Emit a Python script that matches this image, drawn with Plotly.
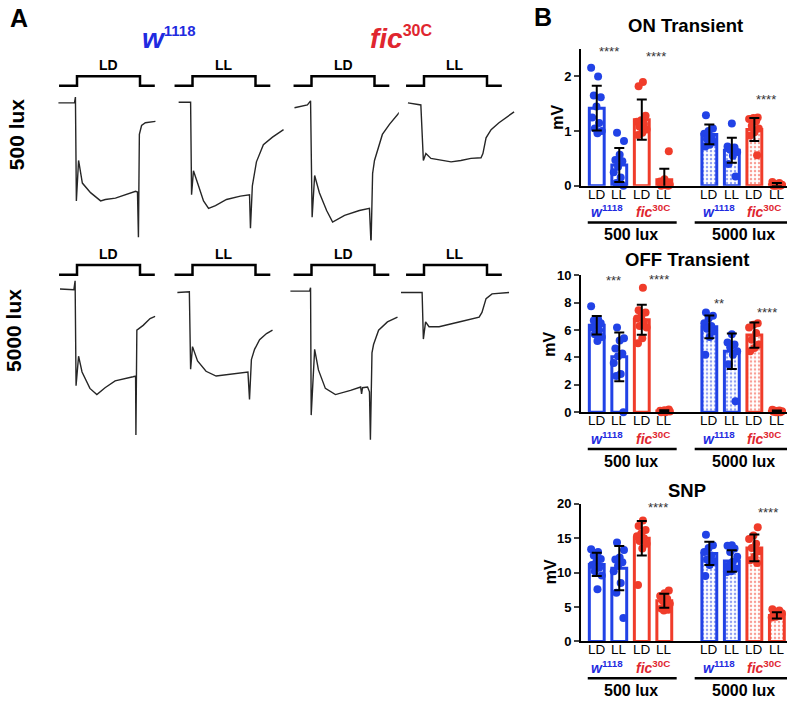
import plotly.graph_objects as go

W, H = 792, 704
FONT = 'Arial, Liberation Sans, sans-serif'
BLUE = '#2142e6'
RED = '#f03c2a'
TXT_BLUE = '#1f2be0'
TXT_RED = '#e0262f'

# ---------------- Panel A: ERG traces ----------------
# time in s from light onset (light on 0..2 s), response in mV from baseline
stim_t = [-0.57, 0, 0, 2, 2, 2.47]
stim_on = [0, 0, 1, 1, 0, 0]

w_ld_500_t = [-0.59, -0.08, -0.05, -0.02, 0.05, 0.17, 0.43, 0.75, 0.9, 1.22, 1.86, 1.92, 1.95, 1.98, 2.05, 2.17, 2.49]
w_ld_500_v = [0, 0, 0.86, -14.3, -8.4, -11.7, -13.1, -14.3, -14.1, -13.9, -12.9, -13.0, -19.6, -4.6, -3.3, -2.9, -2.7]

w_ll_500_t = [-0.44, -0.06, -0.03, 0.03, 0.19, 0.35, 0.51, 0.73, 1.08, 1.52, 1.81, 1.84, 1.9, 2.03, 2.25, 2.54, 2.89]
w_ll_500_v = [0.1, 0.1, -13.4, -9.9, -12.1, -14.3, -15.4, -15.0, -14.1, -13.6, -13.4, -18.3, -12.1, -8.6, -6.1, -5.0, -3.9]

fic_ld_500_t = [-0.54, -0.13, -0.03, 0.02, 0.1, 0.25, 0.48, 0.67, 1.05, 1.52, 1.84, 1.89, 1.94, 2.0, 2.25, 2.48, 2.86]
fic_ld_500_v = [-0.7, -0.3, 0.3, -16.7, -10.6, -13.1, -15.7, -17.4, -16.4, -15.7, -15.4, -20.7, -10.3, -8.4, -4.6, -3.1, -1.0]

fic_ll_500_t = [-0.51, -0.1, -0.02, 0.06, 0.22, 0.54, 0.86, 1.17, 1.49, 1.81, 1.87, 1.97, 2.13, 2.38, 2.86]
fic_ll_500_v = [0, -0.3, -8.4, -7.4, -8.1, -8.4, -8.6, -8.4, -8.1, -8.0, -7.4, -5.1, -3.9, -2.9, -1.3]

w_ld_5000_t = [-0.54, -0.1, -0.06, -0.03, 0.05, 0.16, 0.41, 0.63, 0.89, 1.21, 1.78, 1.86, 1.87, 1.9, 2.1, 2.32, 2.48]
w_ld_5000_v = [0.4, 0.3, 1.6, -13.7, -9.4, -11.7, -14.1, -15.0, -14.0, -13.0, -12.4, -12.3, -20.9, -5.6, -4.9, -3.9, -3.6]

w_ll_5000_t = [-0.48, -0.1, -0.06, 0.0, 0.16, 0.43, 0.75, 1.22, 1.76, 1.81, 1.87, 1.97, 2.13, 2.35, 2.54]
w_ll_5000_v = [-0.1, 0, -11.3, -8.0, -10.1, -11.6, -12.3, -12.0, -11.7, -15.7, -9.9, -8.4, -7.0, -6.1, -5.6]

fic_ld_5000_t = [-0.67, -0.06, -0.03, -0.01, 0.1, 0.22, 0.44, 0.76, 1.24, 1.56, 1.59, 1.62, 1.78, 1.84, 1.87, 1.92, 1.97, 2.13, 2.41, 2.73]
fic_ld_5000_v = [0.1, 0.1, 0.6, -18.0, -8.4, -11.4, -14.1, -15.0, -14.4, -13.9, -14.9, -14.0, -13.9, -14.6, -21.6, -8.9, -7.7, -5.6, -4.4, -3.7]

fic_ll_5000_t = [-0.73, -0.06, -0.02, 0.05, 0.16, 0.48, 1.11, 1.75, 1.84, 1.97, 2.16, 2.7]
fic_ll_5000_v = [-0.1, -0.1, -6.9, -4.4, -5.1, -5.1, -4.4, -3.7, -3.0, -1.0, -0.3, -0.1]

trace_cells = [
    (0, 0, 'LD', w_ld_500_t, w_ld_500_v), (0, 1, 'LL', w_ll_500_t, w_ll_500_v),
    (0, 2, 'LD', fic_ld_500_t, fic_ld_500_v), (0, 3, 'LL', fic_ll_500_t, fic_ll_500_v),
    (1, 0, 'LD', w_ld_5000_t, w_ld_5000_v), (1, 1, 'LL', w_ll_5000_t, w_ll_5000_v),
    (1, 2, 'LD', fic_ld_5000_t, fic_ld_5000_v), (1, 3, 'LL', fic_ll_5000_t, fic_ll_5000_v),
]

# ---------------- Panel B: bar charts ----------------
bar_labels = ['LD', 'LL', 'LD', 'LL', 'LD', 'LL', 'LD', 'LL']
bar_pos = [0, 1, 2, 3, 5, 6, 7, 8]
bar_geno = ['w', 'w', 'fic', 'fic', 'w', 'w', 'fic', 'fic']
bar_lux = [500, 500, 500, 500, 5000, 5000, 5000, 5000]

on_mean = [1.42, 0.38, 1.21, 0.11, 0.94, 0.65, 1.03, 0.02]
on_sd = [0.41, 0.31, 0.37, 0.20, 0.18, 0.23, 0.21, 0.03]
on_points = [
    [2.16, 2.0, 1.65, 1.62, 1.45, 1.25, 1.15, 1.05, 1.0, 0.96],
    [0.97, 0.82, 0.57, 0.47, 0.45, 0.35, 0.25, 0.15, 0.05, 0.0],
    [1.90, 1.82, 1.28, 1.2, 1.17, 1.13, 1.08, 1.03, 0.97, 0.93],
    [0.63, 0.12, 0.08, 0.05, 0.03, 0.02, 0.01, 0.0, 0.0],
    [1.29, 1.05, 1.0, 0.95, 0.9, 0.85, 0.8, 0.75, 0.72],
    [1.14, 0.72, 0.70, 0.66, 0.62, 0.55, 0.40, 0.17],
    [1.25, 1.24, 1.22, 1.18, 1.1, 1.05, 0.98, 0.92, 0.56],
    [0.07, 0.05, 0.03, 0.02, 0.01, 0.0, 0.0, 0.0],
]
on_star_text = ['****', '****', '****']
on_star_x = [0.55, 2.64, 7.5]
on_star_y = [2.4, 2.31, 1.52]

off_mean = [6.36, 4.05, 6.76, 0.08, 6.24, 4.45, 5.64, 0.07]
off_sd = [0.68, 1.78, 1.1, 0.07, 0.83, 1.3, 0.92, 0.06]
off_points = [
    [7.75, 6.8, 6.7, 6.5, 6.4, 6.2, 6.0, 5.7, 5.5, 5.2],
    [6.2, 5.4, 5.25, 4.65, 4.3, 4.1, 3.6, 2.8, 2.65, 0.0],
    [9.1, 7.45, 7.3, 7.0, 6.85, 6.6, 6.3, 6.2, 5.4, 5.05],
    [0.2, 0.15, 0.1, 0.1, 0.05, 0.05, 0.0, 0.0],
    [7.3, 7.05, 6.85, 6.5, 6.3, 6.1, 5.9, 5.5, 4.2],
    [5.7, 5.1, 4.95, 4.75, 4.45, 4.2, 3.5, 0.8],
    [6.5, 6.4, 6.2, 5.8, 5.3, 4.95, 4.7, 4.45],
    [0.18, 0.12, 0.1, 0.06, 0.05, 0.03, 0.0, 0.0],
]
off_star_text = ['***', '****', '**', '****']
off_star_x = [0.74, 2.78, 5.45, 7.55]
off_star_y = [9.4, 9.5, 7.7, 7.07]

snp_mean = [11.2, 10.66, 15.0, 5.92, 12.8, 11.7, 13.6, 3.79]
snp_sd = [1.7, 3.2, 2.5, 1.0, 1.7, 1.55, 1.95, 0.45]
snp_points = [
    [13.4, 13.0, 12.5, 12.0, 11.6, 11.1, 10.7, 10.2, 9.6, 7.6],
    [14.4, 13.3, 12.2, 11.9, 11.5, 11.0, 10.2, 8.5, 7.1, 3.4],
    [17.6, 16.8, 16.2, 15.7, 15.3, 15.0, 14.6, 14.2, 13.5, 8.2],
    [7.4, 7.0, 6.6, 6.2, 5.9, 5.5, 5.2, 4.8, 4.6, 4.5],
    [15.5, 14.0, 13.6, 13.0, 12.5, 11.9, 11.6, 11.1, 9.5],
    [14.0, 13.9, 13.5, 13.0, 12.3, 11.6, 11.0, 10.6, 10.2, 10.1],
    [16.6, 15.4, 14.9, 14.2, 13.6, 13.1, 12.3, 11.8, 11.4],
    [4.7, 4.5, 4.3, 4.1, 3.9, 3.8, 3.7, 3.6, 3.5],
]
snp_star_text = ['****', '****']
snp_star_x = [2.74, 7.59]
snp_star_y = [19.1, 18.3]


def px_x(px):
    return px / W


def px_y(py):
    return 1 - py / H


fig = go.Figure()
layout = dict(width=W, height=H, margin=dict(l=0, r=0, t=0, b=0, pad=0),
              paper_bgcolor='white', plot_bgcolor='white', showlegend=False,
              font=dict(family=FONT, color='black'))
annotations = []
shapes = []

# ---- panel A layout
PX_S, PX_MV = 31.5, 7.0
T_RANGE, V_RANGE = [-0.8, 3.0], [-22.5, 7.5]
col_on = [77, 192.5, 311.5, 424]
row_ref = [98, 291]
stim_low, stim_high = 2.5, 3.9

for k, (r, c, lab, t, v) in enumerate(trace_cells):
    n = 4 + k
    on, ref = col_on[c], row_ref[r]
    xd = [px_x(on + T_RANGE[0] * PX_S), px_x(on + T_RANGE[1] * PX_S)]
    yd = [px_y(ref - V_RANGE[0] * PX_MV), px_y(ref - V_RANGE[1] * PX_MV)]
    layout[f'xaxis{n}'] = dict(domain=xd, range=T_RANGE, visible=False, anchor=f'y{n}')
    layout[f'yaxis{n}'] = dict(domain=yd, range=V_RANGE, visible=False, anchor=f'x{n}')
    fig.add_trace(go.Scatter(x=stim_t, y=[stim_low + (stim_high - stim_low) * s for s in stim_on],
                             mode='lines', line=dict(color='black', width=2.5),
                             xaxis=f'x{n}', yaxis=f'y{n}', hoverinfo='skip'))
    fig.add_trace(go.Scatter(x=t, y=v, mode='lines', line=dict(color='#262626', width=1.4),
                             xaxis=f'x{n}', yaxis=f'y{n}', cliponaxis=False))
    annotations.append(dict(x=1.0, y=5.15, xref=f'x{n}', yref=f'y{n}', text='<b>%s</b>' % lab,
                            font=dict(size=14)))

annotations += [
    dict(x=px_x(19), y=px_y(17), text='<b>A</b>', font=dict(size=25)),
    dict(x=px_x(543), y=px_y(16), text='<b>B</b>', font=dict(size=25)),
    dict(x=px_x(169), y=px_y(38), font=dict(size=28, color=TXT_BLUE),
         text='<b><i>w</i><sup><span style="font-size:15px">1118</span></sup></b>'),
    dict(x=px_x(401), y=px_y(38), font=dict(size=28, color=TXT_RED),
         text='<b><i>fic</i><sup><span style="font-size:16px">30C</span></sup></b>'),
    dict(x=px_x(16), y=px_y(130), text='<b>500 lux</b>', font=dict(size=21), textangle=-90),
    dict(x=px_x(14), y=px_y(331), text='<b>5000 lux</b>', font=dict(size=21), textangle=-90),
]

# ---- panel B
charts = [
    ('ON Transient', on_mean, on_sd, on_points, on_star_text, on_star_x, on_star_y,
     [0, 2.5], [0, 1, 2], 43, 182.7, (685, 23.5), (556.7, 112.5)),
    ('OFF Transient', off_mean, off_sd, off_points, off_star_text, off_star_x, off_star_y,
     [0, 10], [0, 2, 4, 6, 8, 10], 274.3, 414, (686.7, 262.5), (550, 345)),
    ('SNP', snp_mean, snp_sd, snp_points, snp_star_text, snp_star_x, snp_star_y,
     [0, 20], [0, 5, 10, 15, 20], 507.7, 648.3, (686.7, 498), (550, 577.5)),
]
X_RANGE = [-0.7, 8.45]
edge = [BLUE if g == 'w' else RED for g in bar_geno]
patt = ['' if lx == 500 else '.' for lx in bar_lux]
geno_txt = {'w': ('<b><i>w</i><sup>1118</sup></b>', TXT_BLUE),
            'fic': ('<b><i>fic</i><sup>30C</sup></b>', TXT_RED)}

for i, (title, mean, sd, pts, st, sx, sy, yr, yt, top, bot, tpos, mpos) in enumerate(charts):
    n = i + 1
    xa, ya = ('x' if n == 1 else f'x{n}'), ('y' if n == 1 else f'y{n}')
    layout['xaxis' if n == 1 else f'xaxis{n}'] = dict(
        domain=[px_x(581), px_x(787)], range=X_RANGE, anchor=ya, showline=True, linewidth=2,
        linecolor='black', ticks='', showticklabels=False, showgrid=False, zeroline=False)
    layout['yaxis' if n == 1 else f'yaxis{n}'] = dict(
        domain=[px_y(bot), px_y(top)], range=yr, anchor=xa, showline=True, linewidth=2,
        linecolor='black', ticks='outside', ticklen=5, tickwidth=2, tickvals=yt,
        tickfont=dict(size=13, weight='bold'), showgrid=False, zeroline=False)

    fig.add_trace(go.Bar(x=bar_pos, y=mean, width=0.66, xaxis=xa, yaxis=ya,
                         marker=dict(color='white', line=dict(color=edge, width=3),
                                     pattern=dict(shape=patt, fgcolor=edge, bgcolor='white',
                                                  size=4, solidity=0.3))))
    px_, py_, pc = [], [], []
    for j, vals in enumerate(pts):
        for k, val in enumerate(vals):
            off = ((k * 0.618034 + 0.3 * j) % 1 - 0.5) * 0.5
            px_.append(bar_pos[j] + off)
            py_.append(val)
            pc.append(edge[j])
    fig.add_trace(go.Scatter(x=px_, y=py_, mode='markers', xaxis=xa, yaxis=ya, cliponaxis=False,
                             marker=dict(size=8, color=pc, line=dict(width=0))))
    fig.add_trace(go.Scatter(x=bar_pos, y=mean, mode='markers', xaxis=xa, yaxis=ya,
                             marker=dict(size=1, color='rgba(0,0,0,0)'),
                             error_y=dict(type='data', array=sd, color='black', thickness=2, width=5)))

    for t_, x_, y_ in zip(st, sx, sy):
        annotations.append(dict(x=x_, y=y_, xref=xa, yref=ya, text=t_,
                                font=dict(size=13, color='#333333')))
    annotations.append(dict(x=px_x(tpos[0]), y=px_y(tpos[1]), text='<b>%s</b>' % title,
                            font=dict(size=18.5)))
    annotations.append(dict(x=px_x(mpos[0]), y=px_y(mpos[1]), text='<b>mV</b>',
                            font=dict(size=16), textangle=-90))
    # condition labels under bars
    for bx, lab in zip(bar_pos, bar_labels):
        annotations.append(dict(x=bx, y=px_y(bot + 11.5), xref=xa, yref='paper', text=lab,
                                font=dict(size=13.5)))
    # genotype labels, underlines and lux labels under each group
    for gx, g in zip([0.45, 2.5, 5.45, 7.45], ['w', 'fic', 'w', 'fic']):
        txt, col = geno_txt[g]
        annotations.append(dict(x=gx, y=px_y(bot + 29), xref=xa, yref='paper', text=txt,
                                font=dict(size=14, color=col)))
    for (x0, x1), lab, cx in zip([(-0.4, 3.55), (4.35, 8.45)], ['500 lux', '5000 lux'], [1.5, 6.5]):
        shapes.append(dict(type='line', xref=xa, yref='paper', x0=x0, x1=x1,
                           y0=px_y(bot + 37.5), y1=px_y(bot + 37.5),
                           line=dict(color='black', width=2.5)))
        annotations.append(dict(x=cx, y=px_y(bot + 54), xref=xa, yref='paper',
                                text='<b>%s</b>' % lab, font=dict(size=16)))

for a in annotations:
    a.setdefault('xref', 'paper')
    a.setdefault('yref', 'paper')
    a.setdefault('showarrow', False)
    a.setdefault('xanchor', 'center')
    a.setdefault('yanchor', 'middle')
    # text box middle sits a little below the visual centre of the glyphs
    if not a.get('textangle'):
        a['yshift'] = round(0.22 * a['font']['size'])

layout['annotations'] = annotations
layout['shapes'] = shapes
fig.update_layout(**layout)
fig.write_html('out.html', config={'displayModeBar': False},
               post_script="document.body.style.margin='0px';document.body.style.overflow='hidden';")
